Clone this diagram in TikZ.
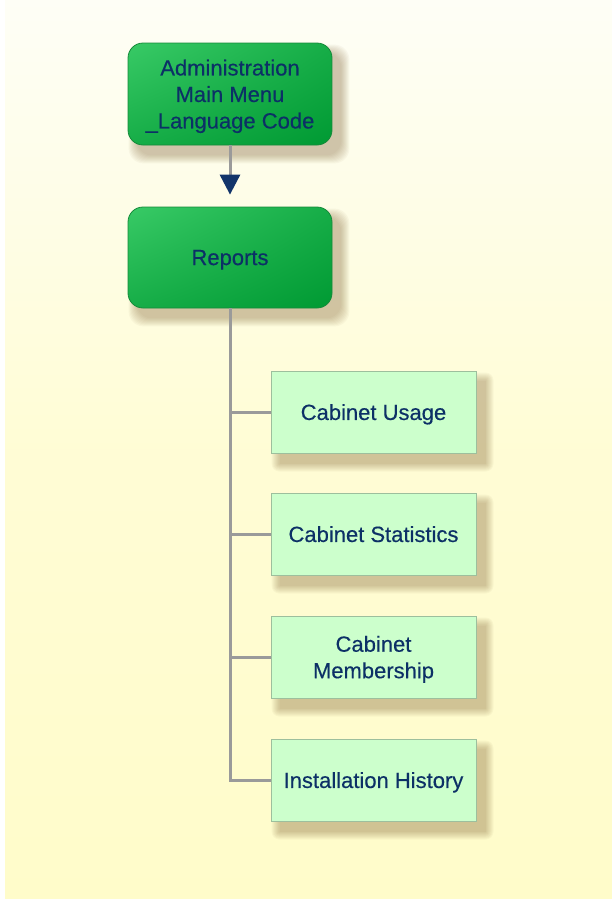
\documentclass[tikz,border=0pt]{standalone}
\usepackage{fontspec}
\setmainfont{Liberation Sans}
\usetikzlibrary{arrows.meta,shadings}
\definecolor{txt}{HTML}{0C3066}
\definecolor{gA}{HTML}{38CA66}
\definecolor{gB}{HTML}{009A33}
\definecolor{gBorder}{HTML}{168A3A}
\definecolor{lfill}{HTML}{CCFFCC}
\definecolor{lborder}{HTML}{9DBF9D}
\definecolor{trunk}{HTML}{9A9A9A}
\definecolor{arrowc}{HTML}{12346A}
\definecolor{shadowc}{HTML}{7A5A2A}
\definecolor{bgtop}{HTML}{FEFEF6}
\definecolor{bgbot}{HTML}{FFFCCA}
\pgfdeclarelayer{bglayer}
\pgfdeclarelayer{shadowlayer}
\pgfsetlayers{bglayer,shadowlayer,main}
\tikzset{
  boxtext/.style={align=center, text=txt, text depth=0pt, font=\fontsize{22}{26.5}\selectfont\addfontfeature{FakeBold=0.35}},
  greenbox/.style={boxtext, rounded corners=15pt, draw=gBorder, line width=0.8pt,
    upper left=gA, upper right=gB!60!gA, lower left=gB!60!gA, lower right=gB,
    minimum width=204pt, minimum height=102pt},
  lightbox/.style={boxtext, draw=lborder, line width=1pt, fill=lfill,
    minimum width=205pt, minimum height=82pt},
  conn/.style={draw=trunk, line width=3pt},
}
\begin{document}
\begin{tikzpicture}[x=1pt,y=-1pt]
\useasboundingbox (0,0) rectangle (612,900);
\node[greenbox, text depth=-5pt] (admin) at (230,94) {Administration\\Main Menu\\\_Language Code};
\node[greenbox, minimum height=101pt] (reports) at (230,257.5) {Reports};
\node[lightbox] (usage) at (373.5,412) {Cabinet Usage};
\node[lightbox] (stats) at (373.5,534) {Cabinet Statistics};
\node[lightbox] (member) at (373.5,657) {Cabinet\\Membership};
\node[lightbox] (history) at (373.5,780) {Installation History};
\draw[conn, shorten >=12pt, -{Triangle[length=20pt,width=20pt,color=arrowc]}] (admin.south) -- (reports.north);
\draw[conn] (reports.south) |- (usage.west);
\draw[conn] (reports.south) |- (stats.west);
\draw[conn] (reports.south) |- (member.west);
\draw[conn] (reports.south) |- (history.west);
\begin{pgfonlayer}{bglayer}
  \fill[white] (0,0) rectangle (612,900);
  \shade[top color=bgtop, bottom color=bgbot, middle color=bgbot!75!bgtop] (5,0) rectangle (612,898);
\end{pgfonlayer}
\begin{pgfonlayer}{shadowlayer}
  \foreach \n in {admin,reports}{
    \foreach \e in {0,...,8}{
      \fill[shadowc, opacity=0.045, rounded corners=15pt]
        ([shift={(9-\e,10-\e)}]\n.north west) rectangle ([shift={(9+\e,10+\e)}]\n.south east);
    }
  }
  \foreach \n in {usage,stats,member,history}{
    \foreach \e in {0,...,8}{
      \fill[shadowc, opacity=0.045, rounded corners=\e pt]
        ([shift={(9-\e,10-\e)}]\n.north west) rectangle ([shift={(9+\e,10+\e)}]\n.south east);
    }
  }
\end{pgfonlayer}
\end{tikzpicture}
\end{document}
